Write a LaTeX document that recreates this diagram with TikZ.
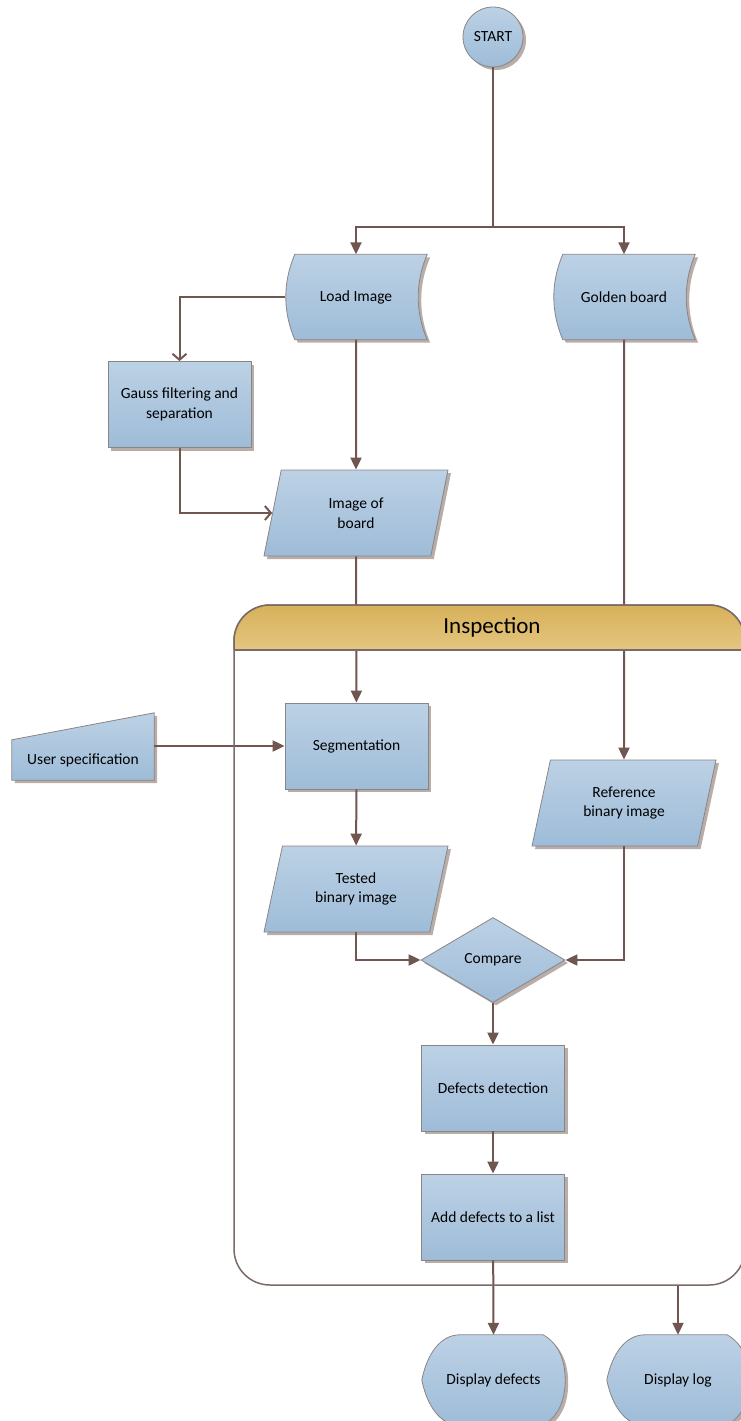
\documentclass[tikz,border=0pt]{standalone}
\usepackage{fontspec}
\setmainfont{Carlito}
\usetikzlibrary{arrows.meta,shapes.geometric,shadows,backgrounds}

\definecolor{boxtop}{HTML}{BCD1E5}
\definecolor{boxbot}{HTML}{9EBCD8}
\definecolor{boxedge}{HTML}{8A8585}
\definecolor{flowc}{HTML}{6F5650}
\definecolor{framec}{HTML}{7B6A65}
\definecolor{headtop}{HTML}{D7B15A}
\definecolor{headbot}{HTML}{E4C680}
\definecolor{shadowc}{HTML}{B8ADA8}

\tikzset{
  shapebox/.style={draw=boxedge, line width=0.8pt, top color=boxtop, bottom color=boxbot,
    drop shadow={shadow xshift=3pt, shadow yshift=-3pt, fill=shadowc, opacity=1}},
  label text/.style={font=\fontsize{15.5}{19.5}\selectfont, text=black, align=center},
  procbox/.style={shapebox, label text, rectangle, minimum width=143pt, minimum height=86pt},
  iobox/.style={shapebox, label text, trapezium, trapezium left angle=65, trapezium right angle=115,
    trapezium stretches body, minimum width=184pt, minimum height=86pt},
  decision/.style={shapebox, label text, diamond, minimum width=144pt, minimum height=85pt, inner sep=0pt},
  plain/.style={label text, rectangle, inner sep=0pt},
  flow/.style={draw=flowc, line width=2pt, -{Triangle[length=12pt,width=11pt]}},
  flowopen/.style={draw=flowc, line width=2pt, -{Straight Barb[length=6pt,width=14pt,line width=2pt]}},
  wire/.style={draw=flowc, line width=2pt},
  frame/.style={draw=framec, line width=1.5pt}
}

\begin{document}
\begin{tikzpicture}[x=1pt,y=1pt]
\useasboundingbox (0,0) rectangle (741,-1421);
\clip (0,0) rectangle (741,-1421);

% nodes
\node[shapebox, label text, circle, minimum size=60pt, inner sep=0pt] (start) at (493,-37) {START};
\node[plain, minimum width=142pt, minimum height=85pt] (ld) at (356,-297) {Load Image};
\node[plain, minimum width=142pt, minimum height=85pt] (gb) at (624,-297) {Golden board};
\node[procbox] (gauss) at (179.5,-404.5) {Gauss filtering and\\separation};
\node[iobox] (img) at (356,-513) {Image of\\board};
\node[procbox] (seg) at (356.5,-746) {Segmentation};
\node[plain, minimum width=142pt, minimum height=40pt] (us) at (83,-760) {User specification};
\node[iobox] (tbi) at (356,-889) {Tested\\binary image};
\node[iobox] (rbi) at (624,-803) {Reference\\binary image};
\node[decision] (cmp) at (493,-960) {Compare};
\node[procbox] (det) at (493,-1088) {Defects detection};
\node[procbox] (add) at (493,-1217) {Add defects to a list};
\node[plain, minimum width=143pt, minimum height=90pt] (dd) at (493.5,-1380) {Display defects};
\node[plain, minimum width=142pt, minimum height=90pt] (dl) at (678,-1380) {Display log};

\coordinate (split) at (493,-227);
\coordinate (logsrc) at (678,-1285);

% outlines of the drawn shapes
\begin{scope}[on background layer]
\path[shapebox] ([xshift=10pt]ld.north west) -- (ld.north east)
  .. controls +(-12,-28) and +(-12,28) .. (ld.south east) -- ([xshift=10pt]ld.south west)
  .. controls +(-12,28) and +(-12,-28) .. ([xshift=10pt]ld.north west) -- cycle;
\path[shapebox] ([xshift=10pt]gb.north west) -- (gb.north east)
  .. controls +(-12,-28) and +(-12,28) .. (gb.south east) -- ([xshift=10pt]gb.south west)
  .. controls +(-12,28) and +(-12,-28) .. ([xshift=10pt]gb.north west) -- cycle;
\path[shapebox] (us.south west) -- (us.north west) -- ([yshift=27pt]us.north east) -- (us.south east) -- cycle;
\path[shapebox] (dd.west) .. controls +(5,25) and +(-20,0) .. ([xshift=38pt]dd.north west)
  -- ([xshift=-22pt]dd.north east) .. controls +(14,-8) and +(0,22) .. (dd.east)
  .. controls +(0,-22) and +(14,8) .. ([xshift=-22pt]dd.south east)
  -- ([xshift=38pt]dd.south west) .. controls +(-20,0) and +(5,-25) .. (dd.west) -- cycle;
\path[shapebox] (dl.west) .. controls +(5,25) and +(-20,0) .. ([xshift=38pt]dl.north west)
  -- ([xshift=-22pt]dl.north east) .. controls +(14,-8) and +(0,22) .. (dl.east)
  .. controls +(0,-22) and +(14,8) .. ([xshift=-22pt]dl.south east)
  -- ([xshift=38pt]dl.south west) .. controls +(-20,0) and +(5,-25) .. (dl.west) -- cycle;
\end{scope}

% connectors
\draw[wire] (start) -- (split);
\draw[flow] (split) -| (ld.north);
\draw[flow] (split) -| (gb.north);
\draw[flowopen] (ld.west) -| (gauss.north);
\draw[flow] (ld.south) -- (img);
\draw[flowopen] (gauss.south) |- (img.left side);
\draw[flow] (img) -- (seg);
\draw[flow] (gb.south) -- (rbi);
\draw[flow] (us.east |- seg.west) -- (seg.west);
\draw[flow] (seg) -- (tbi);
\draw[flow] (tbi.south) |- (cmp.west);
\draw[flow] (rbi.south) |- (cmp.east);
\draw[flow] (cmp) -- (det);
\draw[flow] (det) -- (add);
\draw[flow] (add) -- (dd.north);
\draw[flow] (logsrc) -- (dl.north);

% inspection container
\draw[frame, rounded corners=36pt] (234,-605) rectangle (745,-1285);
\path[top color=headtop, bottom color=headbot] (234,-650) -- (234,-641)
  arc[start angle=180, end angle=90, radius=36] -- (709,-605)
  arc[start angle=90, end angle=0, radius=36] -- (745,-650) -- cycle;
\draw[frame] (234,-650) -- (234,-641) arc[start angle=180, end angle=90, radius=36]
  -- (709,-605) arc[start angle=90, end angle=0, radius=36];
\draw[frame] (234,-650) -- (745,-650);
\node[font=\fontsize{23}{28}\selectfont, text=black] (insp) at (492,-627) {Inspection};
\end{tikzpicture}
\end{document}
